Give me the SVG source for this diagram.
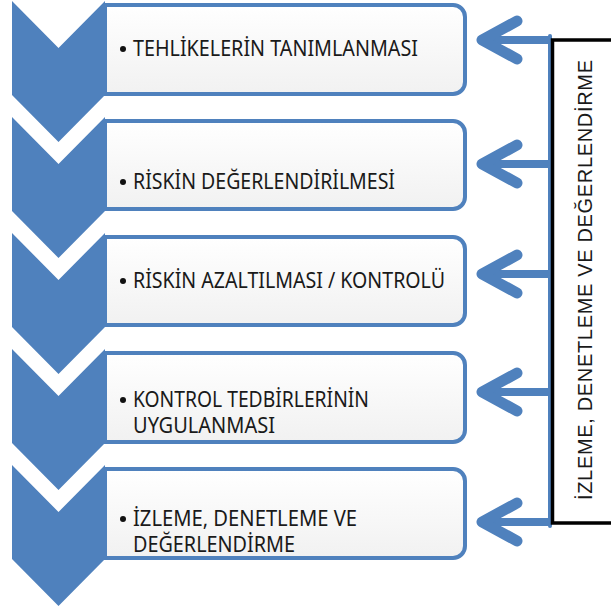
<svg xmlns="http://www.w3.org/2000/svg" width="611" height="613" viewBox="0 0 611 613">
  <defs>
    <linearGradient id="boxFill" x1="0" y1="0" x2="0" y2="1">
      <stop offset="0" stop-color="#ffffff"/>
      <stop offset="1" stop-color="#f1f1f1"/>
    </linearGradient>
    <style>
      .chev { fill: #4f81bd; }
      .box { fill: url(#boxFill); stroke: #4f81bd; stroke-width: 4; }
      .lbl { font-family: "Noto Sans", "Open Sans", sans-serif; font-size: 21px; fill: #1a1a1a; }
      .dot { fill: #111111; }
      .arr { fill: none; stroke: #4f81bd; stroke-linecap: round; stroke-linejoin: round; }
      .shaft { stroke-width: 8; stroke-linecap: butt; }
      .head { stroke-width: 11; }
      .side { font-family: "Liberation Sans", Arial, sans-serif; font-size: 20px; fill: #1a1a1a; }
    </style>
  </defs>

  <rect width="611" height="613" fill="#ffffff"/>

  <!-- step 1 -->
  <g id="step1">
    <path class="box" d="M105,5 H453 A12,12 0 0 1 465,17 V82 A12,12 0 0 1 453,94 H105 Z"/>
    <polygon class="chev" points="12,1 58.5,48 105,1 105,95 58.5,142 12,95"/>
    <circle class="dot" cx="123" cy="49" r="3"/>
    <text class="lbl" x="133" y="56" textLength="285" lengthAdjust="spacingAndGlyphs">TEHLİKELERİN TANIMLANMASI</text>
  </g>

  <!-- step 2 -->
  <g id="step2">
    <path class="box" d="M105,121 H453 A12,12 0 0 1 465,133 V197 A12,12 0 0 1 453,209 H105 Z"/>
    <polygon class="chev" points="12,117 58.5,164 105,117 105,211 58.5,258 12,211"/>
    <circle class="dot" cx="123" cy="182" r="3"/>
    <text class="lbl" x="133" y="189" textLength="262" lengthAdjust="spacingAndGlyphs">RİSKİN DEĞERLENDİRİLMESİ</text>
  </g>

  <!-- step 3 -->
  <g id="step3">
    <path class="box" d="M105,237 H453 A12,12 0 0 1 465,249 V313 A12,12 0 0 1 453,325 H105 Z"/>
    <polygon class="chev" points="12,233 58.5,280 105,233 105,327 58.5,374 12,327"/>
    <circle class="dot" cx="123" cy="281" r="3"/>
    <text class="lbl" x="133" y="288" textLength="312" lengthAdjust="spacingAndGlyphs">RİSKİN AZALTILMASI / KONTROLÜ</text>
  </g>

  <!-- step 4 -->
  <g id="step4">
    <path class="box" d="M105,353 H453 A12,12 0 0 1 465,365 V430 A12,12 0 0 1 453,442 H105 Z"/>
    <polygon class="chev" points="12,349 58.5,396 105,349 105,443 58.5,490 12,443"/>
    <circle class="dot" cx="123" cy="400" r="3"/>
    <text class="lbl" x="133" y="407" textLength="236" lengthAdjust="spacingAndGlyphs">KONTROL TEDBİRLERİNİN</text>
    <text class="lbl" x="133" y="433" textLength="142" lengthAdjust="spacingAndGlyphs">UYGULANMASI</text>
  </g>

  <!-- step 5 -->
  <g id="step5">
    <path class="box" d="M105,469 H453 A12,12 0 0 1 465,481 V546 A12,12 0 0 1 453,558 H105 Z"/>
    <polygon class="chev" points="12,465 58.5,512 105,465 105,559 58.5,606 12,559"/>
    <circle class="dot" cx="123" cy="519" r="3"/>
    <text class="lbl" x="133" y="526" textLength="224" lengthAdjust="spacingAndGlyphs">İZLEME, DENETLEME VE</text>
    <text class="lbl" x="133" y="552" textLength="162" lengthAdjust="spacingAndGlyphs">DEĞERLENDİRME</text>
  </g>

  <!-- feedback arrows back to every step -->
  <g id="connectors">
    <line class="arr" x1="550" y1="36" x2="550" y2="526" stroke-width="4"/>
    <g>
      <line class="arr shaft" x1="486" y1="40" x2="552" y2="40"/>
      <polyline class="arr head" points="517,21 482,40 517,59"/>
    </g>
    <g>
      <line class="arr shaft" x1="486" y1="164" x2="552" y2="164"/>
      <polyline class="arr head" points="517,145 482,164 517,183"/>
    </g>
    <g>
      <line class="arr shaft" x1="486" y1="274" x2="552" y2="274"/>
      <polyline class="arr head" points="517,255 482,274 517,293"/>
    </g>
    <g>
      <line class="arr shaft" x1="486" y1="392" x2="552" y2="392"/>
      <polyline class="arr head" points="517,373 482,392 517,411"/>
    </g>
    <g>
      <line class="arr shaft" x1="486" y1="522" x2="552" y2="522"/>
      <polyline class="arr head" points="517,503 482,522 517,541"/>
    </g>
  </g>

  <!-- monitoring box on the right -->
  <g id="monitor">
    <rect x="552.5" y="40" width="80" height="483" fill="#ffffff" stroke="#000000" stroke-width="3.5"/>
    <text class="side" transform="translate(592,280) rotate(-90)" text-anchor="middle" textLength="440" lengthAdjust="spacing">İZLEME, DENETLEME VE DEĞERLENDİRME</text>
  </g>
</svg>
